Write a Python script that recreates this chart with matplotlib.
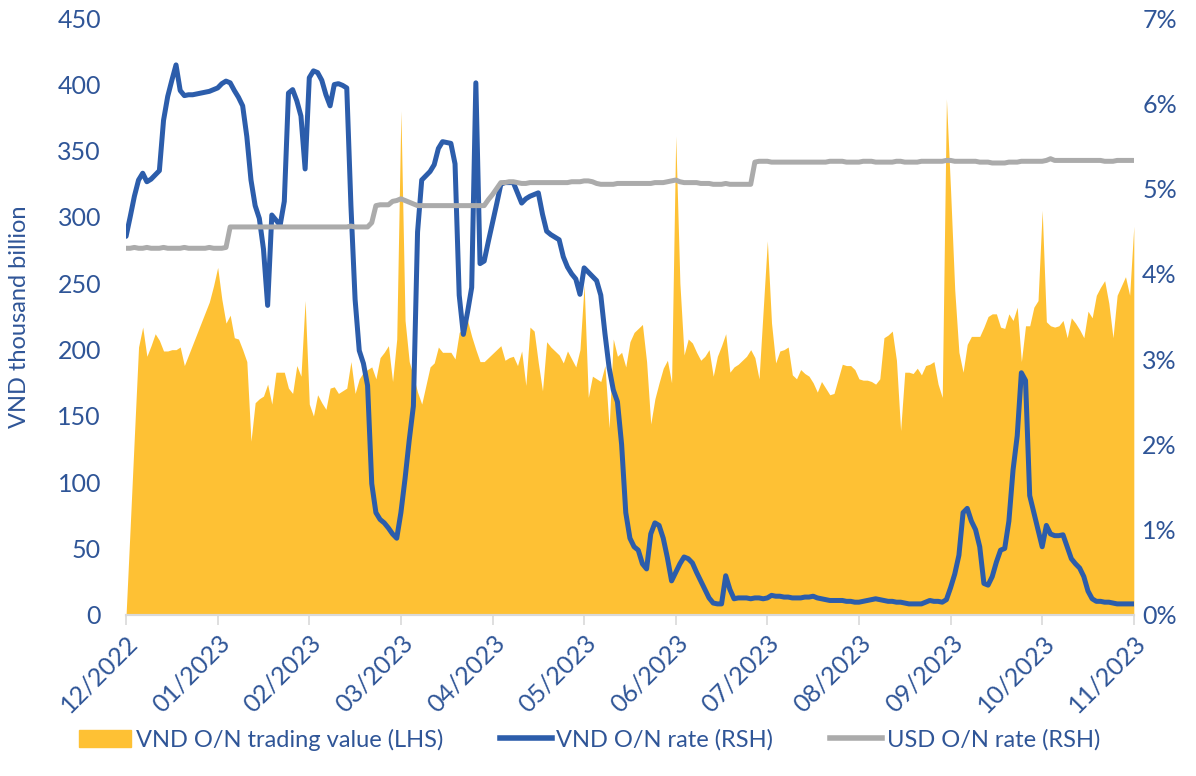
import numpy as np
import matplotlib
matplotlib.use("Agg")
import matplotlib.pyplot as plt
from matplotlib.patches import Patch
from matplotlib.lines import Line2D

plt.rcParams['font.family'] = ['Lato', 'DejaVu Sans']

# trading-day index, 22 sessions per month tick
months = ['12/2022', '01/2023', '02/2023', '03/2023', '04/2023', '05/2023',
          '06/2023', '07/2023', '08/2023', '09/2023', '10/2023', '11/2023']

# VND O/N trading value, thousand billion (LHS)
trading_value = [
    0, 67, 135, 202, 217, 195, 203, 212, 207, 199, 199, 200, 200, 202, 188, 196, 204, 212, 220, 228, 236, 248,
    262, 238, 220, 226, 209, 208, 200, 191, 131, 160, 163, 165, 174, 159, 183, 183, 183, 171, 167, 188,
    180, 237, 159, 150, 166, 160, 155, 171, 172, 167, 169, 171, 191, 167, 178, 183, 185, 187, 178, 194,
    198, 203, 176, 208, 380, 222, 191, 180, 168, 159, 173, 187, 190, 202, 198, 198, 198, 193, 213, 216,
    222, 210, 200, 191, 191, 194, 197, 200, 203, 192, 194, 195, 188, 199, 173, 217, 214, 190, 169, 206,
    202, 199, 196, 190, 199, 193, 187, 200, 249, 164, 180, 178, 176, 188, 141, 208, 195, 198, 187, 206,
    213, 216, 219, 191, 144, 163, 175, 186, 192, 175, 361, 250, 196, 208, 205, 198, 192, 195, 200, 180,
    195, 203, 212, 183, 187, 189, 192, 195, 200, 194, 178, 230, 282, 220, 190, 199, 200, 202, 181, 178,
    185, 182, 180, 175, 168, 176, 171, 166, 167, 178, 189, 188, 188, 185, 178, 177, 177, 176, 174, 178,
    209, 211, 214, 192, 139, 183, 183, 182, 186, 181, 188, 189, 191, 174, 164, 389, 320, 245, 198, 183,
    204, 210, 210, 210, 217, 225, 227, 227, 217, 216, 227, 222, 232, 191, 218, 218, 232, 237, 305, 221,
    218, 217, 218, 222, 209, 224, 220, 215, 209, 229, 224, 241, 247, 252, 235, 209, 241, 248, 255, 241,
    293,
]

# VND O/N rate, % (RHS)
vnd_rate = [
    4.44, 4.67, 4.91, 5.10, 5.18, 5.08, 5.11, 5.16, 5.21, 5.80, 6.08, 6.27, 6.45, 6.15, 6.09, 6.10, 6.10, 6.11, 6.12, 6.13, 6.14, 6.16,
    6.18, 6.23, 6.26, 6.24, 6.15, 6.07, 5.97, 5.61, 5.10, 4.80, 4.65, 4.29, 3.63, 4.69, 4.63, 4.57, 4.85, 6.12, 6.16, 6.03,
    5.85, 5.23, 6.30, 6.38, 6.36, 6.27, 6.10, 5.97, 6.22, 6.23, 6.21, 6.18, 4.80, 3.70, 3.10, 2.95, 2.69, 1.54, 1.20, 1.12,
    1.08, 1.02, 0.95, 0.90, 1.20, 1.60, 2.05, 2.45, 4.49, 5.10, 5.15, 5.20, 5.28, 5.47, 5.55, 5.54, 5.53, 5.29, 3.75, 3.29,
    3.55, 3.84, 6.24, 4.12, 4.15, 4.38, 4.60, 4.82, 5.05, 5.07, 5.07, 5.07, 4.95, 4.83, 4.88, 4.91, 4.93, 4.95, 4.70, 4.50,
    4.46, 4.43, 4.40, 4.20, 4.08, 4.00, 3.94, 3.76, 4.07, 4.02, 3.97, 3.92, 3.75, 3.30, 2.90, 2.64, 2.50, 2.00, 1.20, 0.90,
    0.80, 0.76, 0.60, 0.54, 0.95, 1.08, 1.05, 0.90, 0.67, 0.40, 0.50, 0.60, 0.68, 0.66, 0.61, 0.50, 0.40, 0.30, 0.20, 0.14,
    0.13, 0.13, 0.46, 0.30, 0.19, 0.20, 0.20, 0.20, 0.19, 0.20, 0.20, 0.19, 0.20, 0.23, 0.22, 0.22, 0.21, 0.21, 0.20, 0.20,
    0.20, 0.21, 0.21, 0.22, 0.20, 0.19, 0.18, 0.17, 0.17, 0.17, 0.17, 0.16, 0.16, 0.15, 0.15, 0.16, 0.17, 0.18, 0.19, 0.18,
    0.17, 0.16, 0.16, 0.15, 0.15, 0.14, 0.13, 0.13, 0.13, 0.13, 0.15, 0.17, 0.16, 0.16, 0.15, 0.18, 0.32, 0.48, 0.70, 1.20,
    1.25, 1.10, 1.00, 0.80, 0.37, 0.35, 0.45, 0.62, 0.76, 0.78, 1.10, 1.70, 2.10, 2.84, 2.75, 1.40, 1.20, 1.00, 0.80, 1.05,
    0.95, 0.93, 0.93, 0.94, 0.80, 0.66, 0.60, 0.55, 0.45, 0.28, 0.19, 0.16, 0.16, 0.15, 0.15, 0.14, 0.13, 0.13, 0.13, 0.13,
    0.13,
]

# USD O/N rate, % (RHS)
usd_rate = [
    4.30, 4.30, 4.31, 4.30, 4.30, 4.31, 4.30, 4.30, 4.30, 4.31, 4.30, 4.30, 4.30, 4.30, 4.31, 4.30, 4.30, 4.30, 4.30, 4.30, 4.31, 4.30,
    4.30, 4.30, 4.31, 4.55, 4.55, 4.55, 4.55, 4.55, 4.55, 4.55, 4.55, 4.55, 4.55, 4.55, 4.55, 4.55, 4.55, 4.55, 4.55, 4.55,
    4.55, 4.55, 4.55, 4.55, 4.55, 4.55, 4.55, 4.55, 4.55, 4.55, 4.55, 4.55, 4.56, 4.55, 4.55, 4.55, 4.55, 4.60, 4.80, 4.81,
    4.81, 4.81, 4.85, 4.86, 4.88, 4.86, 4.84, 4.82, 4.80, 4.80, 4.80, 4.80, 4.80, 4.80, 4.80, 4.80, 4.80, 4.80, 4.80, 4.80,
    4.80, 4.80, 4.80, 4.80, 4.80, 4.87, 4.93, 5.00, 5.07, 5.07, 5.08, 5.08, 5.07, 5.06, 5.06, 5.07, 5.07, 5.07, 5.07, 5.07,
    5.07, 5.07, 5.07, 5.07, 5.07, 5.08, 5.08, 5.08, 5.09, 5.09, 5.08, 5.06, 5.05, 5.05, 5.05, 5.05, 5.06, 5.06, 5.06, 5.06,
    5.06, 5.06, 5.06, 5.06, 5.06, 5.07, 5.07, 5.07, 5.08, 5.09, 5.10, 5.08, 5.07, 5.07, 5.07, 5.07, 5.06, 5.06, 5.06, 5.05,
    5.05, 5.05, 5.06, 5.05, 5.05, 5.05, 5.05, 5.05, 5.05, 5.31, 5.32, 5.32, 5.32, 5.31, 5.31, 5.31, 5.31, 5.31, 5.31, 5.31,
    5.31, 5.31, 5.31, 5.31, 5.31, 5.31, 5.31, 5.32, 5.32, 5.32, 5.32, 5.31, 5.31, 5.31, 5.31, 5.32, 5.32, 5.32, 5.31, 5.31,
    5.31, 5.31, 5.31, 5.32, 5.32, 5.31, 5.31, 5.31, 5.31, 5.32, 5.32, 5.32, 5.32, 5.32, 5.32, 5.33, 5.33, 5.32, 5.32, 5.32,
    5.32, 5.32, 5.32, 5.31, 5.31, 5.31, 5.30, 5.30, 5.30, 5.30, 5.31, 5.31, 5.31, 5.32, 5.32, 5.32, 5.32, 5.32, 5.32, 5.33,
    5.35, 5.33, 5.33, 5.33, 5.33, 5.33, 5.33, 5.33, 5.33, 5.33, 5.33, 5.33, 5.33, 5.32, 5.32, 5.32, 5.33, 5.33, 5.33, 5.33,
    5.33,
]

YELLOW = '#FEC134'
BLUE = '#2C5DAB'
GRAY = '#ABABAB'
TXT = '#2F5597'

x = np.arange(len(trading_value))

fig, ax = plt.subplots(figsize=(11.96, 7.76), dpi=100)
fig.subplots_adjust(left=0.1054, right=0.948, top=0.9768, bottom=0.2075)

ax.fill_between(x, 0, trading_value, color=YELLOW, linewidth=0)
ax.set_ylim(0, 450)
ax.set_yticks(np.arange(0, 451, 50))
ax.set_xlim(0, len(x) - 1)
ax.set_xticks(np.arange(0, len(x), 22))
ax.set_xticklabels(months, rotation=45, ha='right', rotation_mode='anchor')
ax.set_ylabel('VND thousand billion', color=TXT, fontsize=17, labelpad=20)

ax2 = ax.twinx()
ax2.plot(x, vnd_rate, color=BLUE, lw=3.6, solid_capstyle='round', solid_joinstyle='round')
ax2.plot(x, usd_rate, color=GRAY, lw=3.6, solid_capstyle='round', solid_joinstyle='round')
ax2.set_ylim(0, 7)
ax2.set_yticks(np.arange(0, 8, 1))
ax2.set_yticklabels(['%d%%' % v for v in range(8)])

for a in (ax, ax2):
    for s in ('top', 'left', 'right'):
        a.spines[s].set_visible(False)
    a.spines['bottom'].set_color('#D9D9D9')
    a.spines['bottom'].set_linewidth(1.5)
    a.tick_params(axis='y', length=0, labelsize=18, labelcolor=TXT)
ax.tick_params(axis='y', pad=18)
ax2.tick_params(axis='y', pad=6)
ax.tick_params(axis='x', length=7, width=1.2, color='#D9D9D9', labelsize=18, labelcolor=TXT, pad=4)

handles = [Patch(color=YELLOW), Line2D([], [], color=BLUE, lw=4), Line2D([], [], color=GRAY, lw=4)]
labels = ['VND O/N trading value (LHS)', 'VND O/N rate (RSH)', 'USD O/N rate (RSH)']
fig.legend(handles, labels, loc='center', bbox_to_anchor=(0.493, 0.047), ncol=3, frameon=False,
           fontsize=17, labelcolor=TXT, handlelength=2.2, handletextpad=0.2, columnspacing=2.4)

fig.savefig('out.png', dpi=100)
